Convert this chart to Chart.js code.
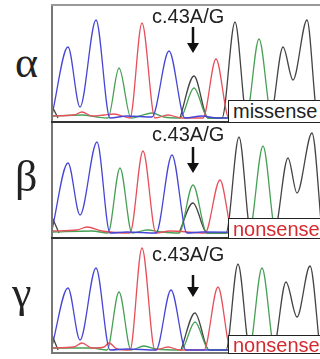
<!DOCTYPE html>
<html>
<head>
<meta charset="utf-8">
<script src="https://cdn.jsdelivr.net/npm/chart.js@4"></script>
<style>
  html, body { margin: 0; padding: 0; background: #fff; }
  #fig { position: relative; width: 320px; height: 359px; overflow: hidden; background: #fff; }
  canvas { position: absolute; left: 52px; }
  .greek { position: absolute; font-family: 'Liberation Serif', 'Times New Roman', serif; font-size: 44px; line-height: 44px; color: #222; }
  .site { position: absolute; left: 152px; font-family: 'Liberation Sans', Arial, sans-serif; font-size: 20px; line-height: 20px; color: #222; }
  .tag { position: absolute; left: 228px; width: 110px; background: #fff; border: 1.5px solid #222; box-sizing: border-box;
         font-family: 'Liberation Sans', Arial, sans-serif; font-size: 20px; line-height: 20px; padding-left: 4px; }
  .hline { position: absolute; left: 51px; width: 280px; }
  .vline { position: absolute; left: 51px; width: 2px; top: 5px; height: 349px; background: #777; }
</style>
</head>
<body>
<div id="fig">
  <canvas id="alpha" width="268" height="118" style="top:5px"></canvas>
  <canvas id="beta" width="268" height="116" style="top:123px"></canvas>
  <canvas id="gamma" width="268" height="114" style="top:239px"></canvas>

  <div class="vline"></div>
  <div class="hline" style="top:4px;height:2px;background:#999"></div>
  <div class="hline" style="top:121px;height:2px;background:#333"></div>
  <div class="hline" style="top:237px;height:2px;background:#333"></div>
  <div class="hline" style="top:352px;height:2px;background:#777"></div>

  <div class="greek" style="left:15px;top:41px">α</div>
  <div class="greek" style="left:15px;top:155px">β</div>
  <div class="greek" style="left:12px;top:271px">γ</div>

  <div class="site" style="top:6px">c.43A/G</div>
  <div class="site" style="top:124px">c.43A/G</div>
  <div class="site" style="top:244px">c.43A/G</div>

  <div class="tag" style="top:100px;height:23px;color:#222">missense</div>
  <div class="tag" style="top:218px;height:21px;color:#d42a30">nonsense</div>
  <div class="tag" style="top:335px;height:19px;color:#d42a30;line-height:18px">nonsense</div>
</div>

<script>
// trace points [scan position, signal]
const alphaBlue  = [[0,3],[16,71],[28,11],[44,98],[58,0],[75,2],[100,1],[117,67],[133,0],[150,2],[165,0],[268,0]];
const alphaGreen = [[0,2],[30,3],[45,1],[56,0],[67,50],[79,0],[88,2],[100,5],[112,1],[128,0],[142,30],[156,0],[194,0],[207,79],[220,0],[262,0],[268,12]];
const alphaRed   = [[0,2],[22,3],[30,6],[40,2],[52,3],[62,4],[78,0],[90,95],[103,0],[116,3],[130,0],[151,0],[164,59],[177,0],[268,0]];
const alphaBlack = [[0,12],[6,0],[60,null],[128,0],[142,42],[156,0],[170,0],[183,96],[195,0],[218,0],[231,71],[241,38],[255,98],[266,0],[268,0]];

const betaBlue  = [[0,3],[16,70],[28,18],[45,91],[58,0],[75,1],[104,0],[120,78],[135,0],[150,1],[268,0]];
const betaGreen = [[0,1],[40,2],[56,0],[68,65],[80,0],[95,3],[110,1],[127,0],[141,48],[155,0],[197,0],[211,87],[224,0],[262,0],[268,10]];
const betaRed   = [[0,2],[25,3],[35,6],[50,2],[78,0],[91,82],[104,0],[118,2],[153,0],[168,53],[181,0],[268,0]];
const betaBlack = [[0,16],[7,0],[60,null],[127,0],[141,30],[155,0],[174,0],[187,96],[199,0],[222,0],[236,75],[245,40],[260,100],[270,0]];

const gammaBlue  = [[0,4],[16,62],[28,10],[44,82],[58,0],[75,1],[104,0],[119,60],[134,0],[268,0]];
const gammaGreen = [[0,2],[40,2],[55,0],[67,58],[79,0],[92,4],[104,1],[129,0],[143,28],[157,0],[197,0],[210,82],[223,0],[262,0],[268,8]];
const gammaRed   = [[0,2],[22,3],[30,7],[40,2],[52,3],[57,7],[65,1],[78,0],[90,102],[103,0],[116,3],[128,0],[152,0],[166,63],[179,0],[268,0]];
const gammaBlack = [[0,15],[6,0],[60,null],[129,0],[143,37],[157,0],[174,0],[186,86],[198,0],[221,0],[234,68],[245,33],[258,84],[268,0]];

const mutationPos = 141;

const colors = { blue: '#4646d6', red: '#e6505a', green: '#48a056', black: '#444444' };

function toXY(arr) {
  return arr.map(p => ({ x: p[0], y: p[1] }));
}

// down arrow over the mutated base
const arrowPlugin = {
  id: 'arrow',
  afterDatasetsDraw(chart, args, opts) {
    const c = chart.ctx;
    const x = chart.scales.x.getPixelForValue(mutationPos);
    c.save();
    c.strokeStyle = '#111';
    c.fillStyle = '#111';
    c.lineWidth = 2.5;
    c.beginPath();
    c.moveTo(x, opts.top);
    c.lineTo(x, opts.bottom - 8);
    c.stroke();
    c.beginPath();
    c.moveTo(x - 6, opts.bottom - 10);
    c.lineTo(x + 6, opts.bottom - 10);
    c.lineTo(x, opts.bottom);
    c.closePath();
    c.fill();
    c.restore();
  }
};

function makePanel(id, blue, red, green, black, yMin, yMax, arrowTop, arrowBottom) {
  new Chart(document.getElementById(id), {
    type: 'line',
    data: {
      datasets: [
        { data: toXY(blue), borderColor: colors.blue },
        { data: toXY(red), borderColor: colors.red },
        { data: toXY(green), borderColor: colors.green },
        { data: toXY(black), borderColor: colors.black }
      ]
    },
    options: {
      responsive: false,
      animation: false,
      devicePixelRatio: 1,
      layout: { padding: 0 },
      elements: {
        point: { radius: 0 },
        line: { borderWidth: 1.3, cubicInterpolationMode: 'monotone', fill: false }
      },
      scales: {
        x: { type: 'linear', min: 0, max: 268, display: false },
        y: { min: yMin, max: yMax, display: false }
      },
      plugins: {
        legend: { display: false },
        tooltip: { enabled: false },
        arrow: { top: arrowTop, bottom: arrowBottom }
      }
    },
    plugins: [arrowPlugin]
  });
}

makePanel('alpha', alphaBlue, alphaRed, alphaGreen, alphaBlack, -5, 113, 22, 48);
makePanel('beta', betaBlue, betaRed, betaGreen, betaBlack, -6, 110, 24, 50);
makePanel('gamma', gammaBlue, gammaRed, gammaGreen, gammaBlack, -3, 111, 36, 58);
</script>
</body>
</html>
